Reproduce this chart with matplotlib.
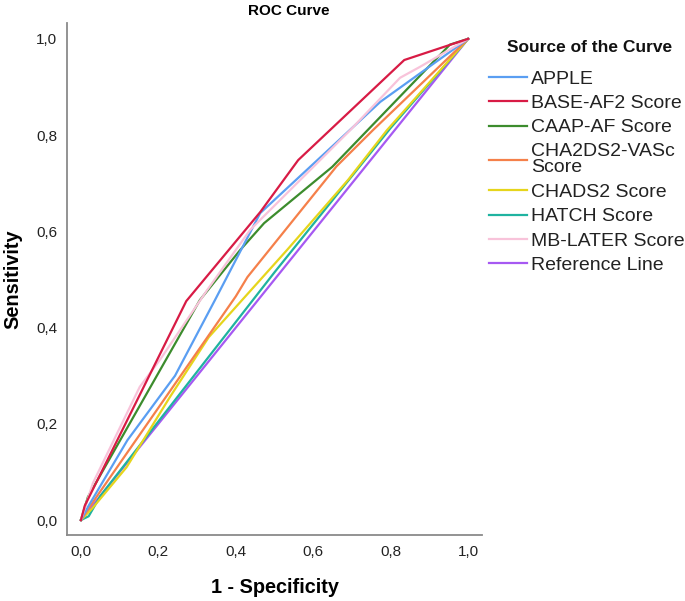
import matplotlib
matplotlib.use("Agg")
import matplotlib.pyplot as plt

plt.rcParams['font.family'] = ['Liberation Sans', 'DejaVu Sans']

series_names = ["APPLE", "BASE-AF2 Score", "CAAP-AF Score", "CHA2DS2-VASc\nScore",
                "CHADS2 Score", "HATCH Score", "MB-LATER Score", "Reference Line"]

apple_x = [0.0, 0.02, 0.12, 0.243, 0.346, 0.463, 0.773, 1.0]
apple_y = [0.0, 0.03, 0.166, 0.30, 0.457, 0.638, 0.869, 1.0]

base_x = [0.0, 0.01, 0.272, 0.463, 0.561, 0.835, 1.0]
base_y = [0.0, 0.03, 0.455, 0.640, 0.748, 0.956, 1.0]

caap_x = [0.0, 0.018, 0.307, 0.411, 0.473, 0.649, 0.953, 1.0]
caap_y = [0.0, 0.048, 0.457, 0.561, 0.617, 0.734, 0.988, 1.0]

cha2_x = [0.0, 0.04, 0.40, 0.43, 0.66, 0.755, 1.0]
cha2_y = [0.0, 0.048, 0.465, 0.505, 0.735, 0.811, 1.0]

chads_x = [0.0, 0.03, 0.118, 0.23, 0.33, 0.532, 0.69, 0.79, 1.0]
chads_y = [0.0, 0.025, 0.110, 0.256, 0.38, 0.561, 0.707, 0.81, 1.0]

hatch_x = [0.0, 0.02, 0.05, 0.5, 0.8, 1.0]
hatch_y = [0.0, 0.008, 0.05, 0.515, 0.815, 1.0]

mb_x = [0.0, 0.031, 0.152, 0.204, 0.326, 0.437, 0.695, 0.824, 0.876, 1.0]
mb_y = [0.0, 0.077, 0.277, 0.333, 0.478, 0.603, 0.81, 0.919, 0.942, 1.0]

ref_x = [0.0, 1.0]
ref_y = [0.0, 1.0]

colors = ['#5A9EF2', '#D81B45', '#3C8C2D', '#F5804A', '#E6D51C', '#1FB3A0', '#F8C3DA', '#A659F2']

data = [(apple_x, apple_y), (base_x, base_y), (caap_x, caap_y), (cha2_x, cha2_y),
        (chads_x, chads_y), (hatch_x, hatch_y), (mb_x, mb_y), (ref_x, ref_y)]

ticks = [0.0, 0.2, 0.4, 0.6, 0.8, 1.0]
tick_labels = ["0,0", "0,2", "0,4", "0,6", "0,8", "1,0"]

fig = plt.figure(figsize=(6.85, 6.01), dpi=100)
ax = fig.add_axes([0.0978, 0.1098, 0.606, 0.852])

order = [7, 5, 4, 3, 2, 0, 6, 1]
handles = [None] * len(series_names)
for i in order:
    xs, ys = data[i]
    h, = ax.plot(xs, ys, color=colors[i], lw=1.6, label=series_names[i], zorder=2 + (i != 7))
    handles[i] = h

ax.set_xlim(-0.036, 1.036)
ax.set_ylim(-0.031, 1.033)
ax.set_xticks(ticks)
ax.set_xticklabels(tick_labels)
ax.set_yticks(ticks)
ax.set_yticklabels(tick_labels)
ax.tick_params(length=0, labelsize=11, colors='#222222', pad=7)
for s in ['top', 'right']:
    ax.spines[s].set_visible(False)
for s in ['left', 'bottom']:
    ax.spines[s].set_color('#8a8a8a')
    ax.spines[s].set_linewidth(1.3)

ax.set_title("ROC Curve", fontsize=11, fontweight='bold', pad=6, x=0.535)
ax.set_xlabel("1 - Specificity", fontsize=14.3, fontweight='bold', labelpad=14)
ax.set_ylabel("Sensitivity", fontsize=14.3, fontweight='bold', labelpad=10)

fig.text(590 / 685, 1 - 47 / 601, "Source of the Curve", fontsize=12.5, fontweight='bold',
         ha='center', va='center', color='#111111')

leg = fig.legend(handles=handles, labels=series_names, loc='upper left',
                 bbox_to_anchor=(485 / 685, 1 - 66 / 601), frameon=False, borderaxespad=0,
                 borderpad=0.2, fontsize=14, handlelength=1.95, handletextpad=0.2,
                 labelspacing=0.35)
for t in leg.get_texts():
    t.set_color('#222222')
leg.get_texts()[3].set_linespacing(0.95)

fig.savefig("out.png", dpi=100)
